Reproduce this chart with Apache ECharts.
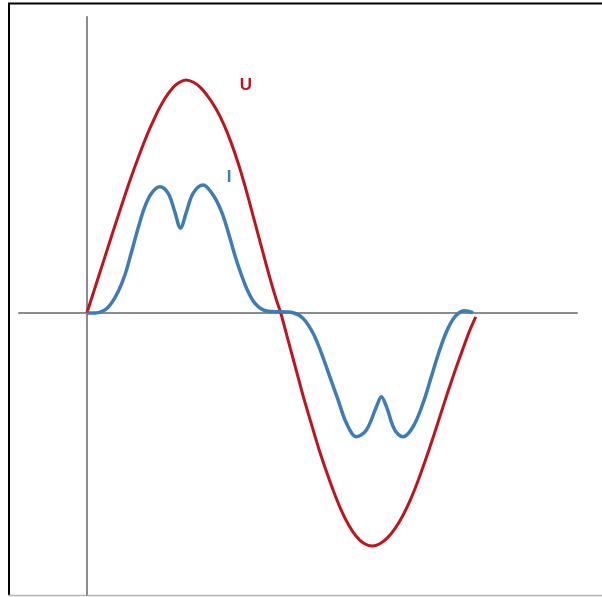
<!DOCTYPE html>
<html>
<head>
<meta charset="utf-8">
<style>
  html, body { margin: 0; padding: 0; background: #fff; }
  #chart { width: 602px; height: 597px; }
</style>
<script src="https://cdn.jsdelivr.net/npm/echarts@6/dist/echarts.min.js"></script>
</head>
<body>
<div id="chart"></div>
<script>
// phase angle (deg) and voltage U
var uAngles = [0, 8, 16, 24, 32, 40, 48, 56, 64, 72, 80, 86, 92, 99, 106, 113, 120, 127,
  134, 141, 148, 155, 162, 169, 176, 180, 187, 194, 201, 208, 215, 222, 229, 236, 243,
  250, 257, 265, 272, 279, 286, 293, 300, 307, 314, 321, 328, 335, 342, 349, 355, 361];
var uValues = [0, 0.115, 0.23, 0.345, 0.458, 0.568, 0.67, 0.765, 0.848, 0.917, 0.967,
  0.99, 1.0, 0.99, 0.965, 0.925, 0.875, 0.81, 0.73, 0.635, 0.525, 0.405, 0.285, 0.165,
  0.055, 0, -0.12, -0.24, -0.36, -0.47, -0.578, -0.675, -0.765, -0.845, -0.91, -0.958,
  -0.988, -1.0, -0.99, -0.965, -0.925, -0.872, -0.805, -0.725, -0.635, -0.54, -0.44,
  -0.34, -0.245, -0.155, -0.08, -0.017];

// current I (double hump), same angle scale
var iAngles = [0, 7.4, 16.7, 22.9, 29, 35.3, 41.5, 47.6, 53.8, 60, 67.7, 75.4, 81.6, 86.9,
  92.5, 98.7, 107.9, 117.2, 125, 131.1, 137.3, 143.5, 149.7, 155.9, 163.6, 174.4, 180.6,
  191.4, 200.7, 210, 217.8, 225.5, 233.2, 241, 250.2, 259.5, 268.8, 273.4, 278.1, 285.8,
  293.5, 302.8, 312, 319.8, 327.5, 335.2, 343, 350.7, 358.4];
var iValues = [0, 0, 0.013, 0.043, 0.091, 0.163, 0.263, 0.365, 0.456, 0.514, 0.542, 0.514,
  0.435, 0.364, 0.435, 0.514, 0.549, 0.506, 0.435, 0.349, 0.249, 0.163, 0.091, 0.042,
  0.013, 0.005, 0.005, 0.001, -0.023, -0.087, -0.173, -0.273, -0.373, -0.473, -0.531,
  -0.502, -0.402, -0.359, -0.402, -0.502, -0.531, -0.488, -0.388, -0.273, -0.159,
  -0.066, -0.009, 0.01, 0.001];

var labels = ['U', 'I'];

function pairs(xs, ys) {
  return xs.map(function (x, k) { return [x, ys[k]]; });
}

var chart = echarts.init(document.getElementById('chart'), null, { renderer: 'canvas' });

var axisStyle = { show: true, onZero: true, lineStyle: { color: '#8c8c8c', width: 2 } };

chart.setOption({
  animation: false,
  backgroundColor: '#fff',
  grid: { left: 19, right: 25, top: 17, bottom: 2 },
  xAxis: {
    type: 'value',
    min: -63,
    max: 455,
    axisLine: axisStyle,
    axisTick: { show: false },
    axisLabel: { show: false },
    splitLine: { show: false }
  },
  yAxis: {
    type: 'value',
    min: -1.21,
    max: 1.27,
    axisLine: axisStyle,
    axisTick: { show: false },
    axisLabel: { show: false },
    splitLine: { show: false }
  },
  graphic: [
    // frame
    { type: 'line', shape: { x1: 8, y1: 3.5, x2: 602, y2: 3.5 }, style: { stroke: '#000', lineWidth: 2 } },
    { type: 'line', shape: { x1: 9, y1: 3, x2: 9, y2: 596 }, style: { stroke: '#000', lineWidth: 2 } },
    { type: 'line', shape: { x1: 8, y1: 595.5, x2: 602, y2: 595.5 }, style: { stroke: '#b4b4b4', lineWidth: 1.5 } },
    {
      type: 'text', x: 246, y: 85,
      style: { text: labels[0], fill: '#c0141c', font: 'bold 17px "Liberation Sans"', align: 'center', verticalAlign: 'middle' }
    },
    {
      type: 'text', x: 229, y: 177,
      style: { text: labels[1], fill: '#3e7cb8', font: 'bold 17px "Liberation Sans"', align: 'center', verticalAlign: 'middle' }
    }
  ],
  series: [
    {
      name: 'U',
      type: 'line',
      data: pairs(uAngles, uValues),
      smooth: 0.3,
      symbol: 'none',
      lineStyle: { color: '#c0141c', width: 3 }
    },
    {
      name: 'I',
      type: 'line',
      data: pairs(iAngles, iValues),
      smooth: 0.35,
      symbol: 'none',
      lineStyle: { color: '#3e7cb8', width: 3.5 }
    }
  ]
});
</script>
</body>
</html>
